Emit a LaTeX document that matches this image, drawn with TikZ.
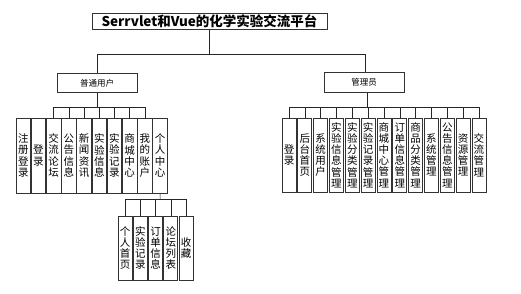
\documentclass[tikz,border=0pt]{standalone}
\usepackage{fontspec}
\setmainfont{Noto Sans CJK SC}
\begin{document}
\begin{tikzpicture}[x=1pt,y=-1pt,
  box/.style={draw=black!80,line width=0.8pt,inner sep=0pt,fill=white},
  titlebox/.style={box,minimum width=235pt,minimum height=16pt,font=\fontsize{13.5}{14}\selectfont\bfseries},
  rolebox/.style={box,minimum width=80pt,minimum height=19.5pt,font=\fontsize{8.5}{10}\selectfont},
  leafbox/.style={box,minimum width=14pt,align=center,font=\fontsize{10.5}{11.2}\selectfont},
  conn/.style={draw=black!85,line width=0.6pt}]
\useasboundingbox (0,0) rectangle (521,293);
% title
\node[titlebox] (t) at (209.5,21) {Serrvlet和Vue的化学实验交流平台};
\node[rolebox] (u) at (97,83) {普通用户};
\node[rolebox] (a) at (364,82.5) {管理员};
\coordinate (tb) at (209,54);
\coordinate (tu) at (97,54);
\coordinate (ta) at (365,54);
\draw[conn] (t.south -| tb) -- (tb);
\draw[conn] (tu) -- (ta);
\draw[conn] (tu) -- (u.north -| tu);
\draw[conn] (ta) -- (a.north -| ta);
% left children
\foreach \t [count=\i from 0] in {注\\册\\登\\录,登\\录,交\\流\\论\\坛,公\\告\\信\\息,新\\闻\\资\\讯,实\\验\\信\\息,实\\验\\记\\录,商\\城\\中\\心,我\\的\\账\\户,个\\人\\中\\心}
  \node[leafbox,minimum height=75pt,minimum width=14.5pt] (l\i) at (23.25+15.2*\i,155.5) {\t};
\coordinate (ub) at (97,107);
\draw[conn] (u.south -| ub) -- (ub);
\coordinate (lb0) at (l2.center |- ub);
\coordinate (lb1) at (l8.center |- ub);
\draw[conn] (lb0) -- (lb1);
\foreach \i in {2,...,8}
  \draw[conn] (l\i.center |- ub) -- (l\i.north);
% sub children of 个人中心
\foreach \t [count=\i from 0] in {个\\人\\首\\页,实\\验\\记\\录,订\\单\\信\\息,论\\坛\\列\\表,收\\藏}
  \node[leafbox,minimum height=64pt] (s\i) at (125.2+15.2*\i,248) {\t};
\coordinate (pb) at (160.05,199);
\draw[conn] (l9.south) -- (pb);
\draw[conn] (s0.center |- pb) -- (s4.center |- pb);
\foreach \i in {0,...,4}
  \draw[conn] (s\i.center |- pb) -- (s\i.north);
% right children
\foreach \t [count=\i from 0] in {登\\录,后\\台\\首\\页,系\\统\\用\\户,实\\验\\信\\息\\管\\理,实\\验\\分\\类\\管\\理,实\\验\\记\\录\\管\\理,商\\城\\中\\心\\管\\理,订\\单\\信\\息\\管\\理,商\\品\\分\\类\\管\\理,系\\统\\管\\理,公\\告\\信\\息\\管\\理,资\\源\\管\\理,交\\流\\管\\理}
  \node[leafbox,minimum height=74pt] (r\i) at (289+15.83*\i,155) {\t};
\coordinate (ab) at (367,107);
\draw[conn] (a.south -| ab) -- (ab);
\draw[conn] (r0.center |- ab) -- (r12.center |- ab);
\foreach \i in {0,...,12}
  \draw[conn] (r\i.center |- ab) -- (r\i.north);
\end{tikzpicture}
\end{document}
